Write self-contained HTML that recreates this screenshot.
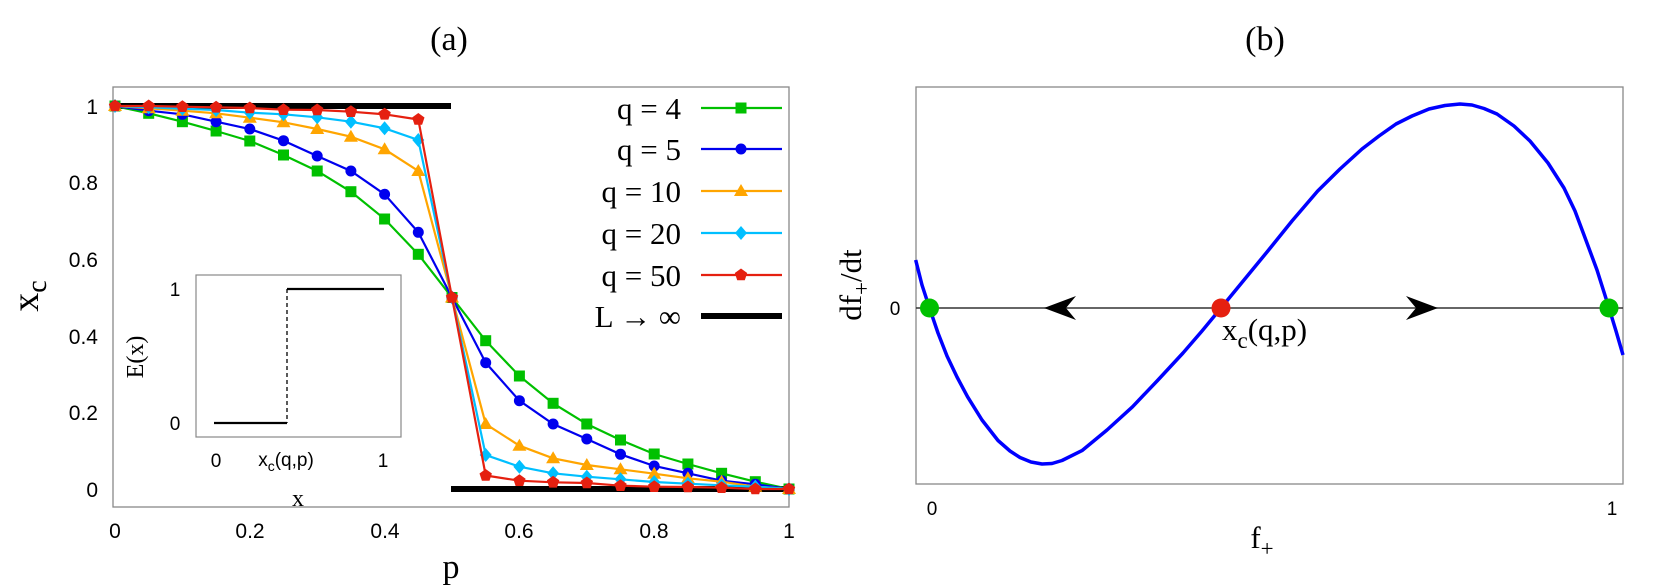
<!DOCTYPE html>
<html><head><meta charset="utf-8"><style>html,body{margin:0;padding:0;background:#fff}svg{display:block}</style></head>
<body>
<svg width="1661" height="588" viewBox="0 0 1661 588" xmlns="http://www.w3.org/2000/svg">
<defs>
<rect id="sq" x="-5.5" y="-5.5" width="11" height="11"/>
<circle id="ci" r="5.5"/>
<polygon id="tr" points="0,-7 7,5 -7,5"/>
<polygon id="di" points="0,-7 6,0 0,7 -6,0"/>
<polygon id="pe" points="0,-6.5 6.2,-2 3.8,5.3 -3.8,5.3 -6.2,-2"/>
</defs>
<g font-family="Liberation Serif, serif" fill="#000">
<text x="449" y="50" font-size="34" text-anchor="middle">(a)</text>
<text x="1265" y="50" font-size="34" text-anchor="middle">(b)</text>
</g>
<!-- Panel a -->
<rect x="113" y="87" width="676" height="420" fill="none" stroke="#888" stroke-width="1.3"/>
<g font-family="Liberation Sans, sans-serif" font-size="21" fill="#000" text-anchor="end">
<text x="98" y="114">1</text><text x="98" y="190">0.8</text><text x="98" y="267">0.6</text>
<text x="98" y="344">0.4</text><text x="98" y="420">0.2</text><text x="98" y="497">0</text>
</g>
<g font-family="Liberation Sans, sans-serif" font-size="21" fill="#000" text-anchor="middle">
<text x="115" y="538">0</text><text x="250" y="538">0.2</text><text x="385" y="538">0.4</text>
<text x="519" y="538">0.6</text><text x="654" y="538">0.8</text><text x="789" y="538">1</text>
</g>
<text x="451" y="578" font-family="Liberation Serif, serif" font-size="34" text-anchor="middle">p</text>
<text x="28" y="306" font-family="Liberation Serif, serif" font-size="38" text-anchor="middle" transform="rotate(-90 28 296)">x<tspan font-size="28" dy="8">c</tspan></text>
<line x1="115" y1="106" x2="451" y2="106" stroke="#000" stroke-width="6"/>
<line x1="451" y1="489" x2="789" y2="489" stroke="#000" stroke-width="6"/>
<!-- q=4 -->
<polyline stroke="#00c000" stroke-width="2.2" fill="none" points="115,106 148.7,113.3 182.4,121.7 216.1,131 249.8,141 283.5,155 317.2,171 350.9,191.7 384.6,219 418.3,254.3 452,297.5 485.7,340.7 519.4,376 553.1,403.3 586.8,424 620.5,440 654.2,454 687.9,464 721.6,473.3 755.3,481.7 789,489"/>
<g fill="#00c000"><use href="#sq" x="115" y="106"/><use href="#sq" x="148.7" y="113.3"/><use href="#sq" x="182.4" y="121.7"/><use href="#sq" x="216.1" y="131"/><use href="#sq" x="249.8" y="141"/><use href="#sq" x="283.5" y="155"/><use href="#sq" x="317.2" y="171"/><use href="#sq" x="350.9" y="191.7"/><use href="#sq" x="384.6" y="219"/><use href="#sq" x="418.3" y="254.3"/><use href="#sq" x="452" y="297.5"/><use href="#sq" x="485.7" y="340.7"/><use href="#sq" x="519.4" y="376"/><use href="#sq" x="553.1" y="403.3"/><use href="#sq" x="586.8" y="424"/><use href="#sq" x="620.5" y="440"/><use href="#sq" x="654.2" y="454"/><use href="#sq" x="687.9" y="464"/><use href="#sq" x="721.6" y="473.3"/><use href="#sq" x="755.3" y="481.7"/><use href="#sq" x="789" y="489"/></g>
<!-- q=5 -->
<polyline stroke="#0000ee" stroke-width="2.2" fill="none" points="115,106 148.7,110.7 182.4,114.3 216.1,121.7 249.8,129 283.5,140.7 317.2,156 350.9,171 384.6,194.3 418.3,232.3 452,297.5 485.7,362.7 519.4,400.7 553.1,424 586.8,439 620.5,454.3 654.2,466 687.9,473.3 721.6,480.7 755.3,484.3 789,489"/>
<g fill="#0000ee"><use href="#ci" x="115" y="106"/><use href="#ci" x="148.7" y="110.7"/><use href="#ci" x="182.4" y="114.3"/><use href="#ci" x="216.1" y="121.7"/><use href="#ci" x="249.8" y="129"/><use href="#ci" x="283.5" y="140.7"/><use href="#ci" x="317.2" y="156"/><use href="#ci" x="350.9" y="171"/><use href="#ci" x="384.6" y="194.3"/><use href="#ci" x="418.3" y="232.3"/><use href="#ci" x="452" y="297.5"/><use href="#ci" x="485.7" y="362.7"/><use href="#ci" x="519.4" y="400.7"/><use href="#ci" x="553.1" y="424"/><use href="#ci" x="586.8" y="439"/><use href="#ci" x="620.5" y="454.3"/><use href="#ci" x="654.2" y="466"/><use href="#ci" x="687.9" y="473.3"/><use href="#ci" x="721.6" y="480.7"/><use href="#ci" x="755.3" y="484.3"/><use href="#ci" x="789" y="489"/></g>
<!-- q=10 -->
<polyline stroke="#ffa500" stroke-width="2.2" fill="none" points="115,106 148.7,108.3 182.4,110.7 216.1,113.3 249.8,117.7 283.5,122.3 317.2,129 350.9,136.7 384.6,149.3 418.3,171 452,297.5 485.7,424 519.4,445.7 553.1,458.3 586.8,465 620.5,469.3 654.2,473.7 687.9,478.3 721.6,481.7 755.3,486.7 789,489"/>
<g fill="#ffa500"><use href="#tr" x="115" y="106"/><use href="#tr" x="148.7" y="108.3"/><use href="#tr" x="182.4" y="110.7"/><use href="#tr" x="216.1" y="113.3"/><use href="#tr" x="249.8" y="117.7"/><use href="#tr" x="283.5" y="122.3"/><use href="#tr" x="317.2" y="129"/><use href="#tr" x="350.9" y="136.7"/><use href="#tr" x="384.6" y="149.3"/><use href="#tr" x="418.3" y="171"/><use href="#tr" x="452" y="297.5"/><use href="#tr" x="485.7" y="424"/><use href="#tr" x="519.4" y="445.7"/><use href="#tr" x="553.1" y="458.3"/><use href="#tr" x="586.8" y="465"/><use href="#tr" x="620.5" y="469.3"/><use href="#tr" x="654.2" y="473.7"/><use href="#tr" x="687.9" y="478.3"/><use href="#tr" x="721.6" y="481.7"/><use href="#tr" x="755.3" y="486.7"/><use href="#tr" x="789" y="489"/></g>
<!-- q=20 -->
<polyline stroke="#00bfff" stroke-width="2.2" fill="none" points="115,106 148.7,107.3 182.4,108.7 216.1,110 249.8,112.7 283.5,114.3 317.2,117.3 350.9,121.7 384.6,128.3 418.3,140 452,297.5 485.7,455 519.4,466.7 553.1,473.3 586.8,476.7 620.5,479.3 654.2,482 687.9,483.7 721.6,485.3 755.3,486.7 789,489"/>
<g fill="#00bfff"><use href="#di" x="115" y="106"/><use href="#di" x="148.7" y="107.3"/><use href="#di" x="182.4" y="108.7"/><use href="#di" x="216.1" y="110"/><use href="#di" x="249.8" y="112.7"/><use href="#di" x="283.5" y="114.3"/><use href="#di" x="317.2" y="117.3"/><use href="#di" x="350.9" y="121.7"/><use href="#di" x="384.6" y="128.3"/><use href="#di" x="418.3" y="140"/><use href="#di" x="452" y="297.5"/><use href="#di" x="485.7" y="455"/><use href="#di" x="519.4" y="466.7"/><use href="#di" x="553.1" y="473.3"/><use href="#di" x="586.8" y="476.7"/><use href="#di" x="620.5" y="479.3"/><use href="#di" x="654.2" y="482"/><use href="#di" x="687.9" y="483.7"/><use href="#di" x="721.6" y="485.3"/><use href="#di" x="755.3" y="486.7"/><use href="#di" x="789" y="489"/></g>
<!-- q=50 -->
<polyline stroke="#e52010" stroke-width="2.2" fill="none" points="115,106 148.7,106 182.4,106.7 216.1,107.3 249.8,108 283.5,109.7 317.2,110 350.9,111.7 384.6,114.3 418.3,119.5 452,297.5 485.7,475.5 519.4,480.7 553.1,482.3 586.8,483 620.5,485.7 654.2,486.7 687.9,487 721.6,487.7 755.3,489 789,489"/>
<g fill="#e52010"><use href="#pe" x="115" y="106"/><use href="#pe" x="148.7" y="106"/><use href="#pe" x="182.4" y="106.7"/><use href="#pe" x="216.1" y="107.3"/><use href="#pe" x="249.8" y="108"/><use href="#pe" x="283.5" y="109.7"/><use href="#pe" x="317.2" y="110"/><use href="#pe" x="350.9" y="111.7"/><use href="#pe" x="384.6" y="114.3"/><use href="#pe" x="418.3" y="119.5"/><use href="#pe" x="452" y="297.5"/><use href="#pe" x="485.7" y="475.5"/><use href="#pe" x="519.4" y="480.7"/><use href="#pe" x="553.1" y="482.3"/><use href="#pe" x="586.8" y="483"/><use href="#pe" x="620.5" y="485.7"/><use href="#pe" x="654.2" y="486.7"/><use href="#pe" x="687.9" y="487"/><use href="#pe" x="721.6" y="487.7"/><use href="#pe" x="755.3" y="489"/><use href="#pe" x="789" y="489"/></g>
<!-- legend -->
<g font-family="Liberation Serif, serif" font-size="31" fill="#000" text-anchor="end">
<text x="681" y="119">q = 4</text><text x="681" y="160">q = 5</text><text x="681" y="202">q = 10</text>
<text x="681" y="244">q = 20</text><text x="681" y="286">q = 50</text><text x="681" y="327">L → ∞</text>
</g>
<line x1="701" y1="108" x2="782" y2="108" stroke="#00c000" stroke-width="2.2"/><use href="#sq" x="741" y="108" fill="#00c000"/>
<line x1="701" y1="149" x2="782" y2="149" stroke="#0000ee" stroke-width="2.2"/><use href="#ci" x="741" y="149" fill="#0000ee"/>
<line x1="701" y1="191" x2="782" y2="191" stroke="#ffa500" stroke-width="2.2"/><use href="#tr" x="741" y="191" fill="#ffa500"/>
<line x1="701" y1="233" x2="782" y2="233" stroke="#00bfff" stroke-width="2.2"/><use href="#di" x="741" y="233" fill="#00bfff"/>
<line x1="701" y1="275" x2="782" y2="275" stroke="#e52010" stroke-width="2.2"/><use href="#pe" x="741" y="275" fill="#e52010"/>
<line x1="701" y1="316" x2="782" y2="316" stroke="#000" stroke-width="6"/>
<!-- inset -->
<rect x="196" y="275" width="205" height="162" fill="#fff" stroke="#888" stroke-width="1.2"/>
<line x1="214" y1="423" x2="287" y2="423" stroke="#000" stroke-width="2.2"/>
<line x1="287" y1="289" x2="287" y2="423" stroke="#000" stroke-width="1.3" stroke-dasharray="4,3"/>
<line x1="287" y1="289" x2="384" y2="289" stroke="#000" stroke-width="2.2"/>
<g font-family="Liberation Sans, sans-serif" font-size="19" fill="#000" text-anchor="middle">
<text x="175" y="296">1</text><text x="175" y="430">0</text>
<text x="216" y="467">0</text><text x="383" y="467">1</text>
<text x="286" y="466">x<tspan font-size="14" dy="5">c</tspan><tspan dy="-5">(q,p)</tspan></text>
</g>
<text x="298" y="506" font-family="Liberation Serif, serif" font-size="24" text-anchor="middle">x</text>
<text x="135" y="365" font-family="Liberation Serif, serif" font-size="24" text-anchor="middle" transform="rotate(-90 135 357)">E(x)</text>
<!-- Panel b -->
<rect x="916" y="87" width="707" height="397" fill="none" stroke="#888" stroke-width="1.3"/>
<line x1="916" y1="308" x2="1623" y2="308" stroke="#333" stroke-width="1.5"/>
<polygon points="1044,308 1076,296 1066,308 1076,320" fill="#000"/>
<polygon points="1438,308 1406,296 1416,308 1406,320" fill="#000"/>
<polyline fill="none" stroke="#0000ff" stroke-width="3.5" stroke-linejoin="round" stroke-linecap="butt" points="915.7,260 922,285 929.5,308 938,333 947,356 957,377 967.5,396.7 982,420 998,440.5 1010,451 1020,457.5 1031,462 1042,464 1052,463.5 1062,460.5 1082,450.6 1107,430 1132.5,406.8 1158,380 1183,353 1202,331 1221,308 1244,280 1267,252 1292,221 1317.7,191 1340,169 1362,149 1379,136 1396,124 1412,116 1429,109 1445,105.5 1460,104 1472,105 1484,108.5 1497,114 1514,126 1530,141 1548,163 1564,188 1575,211 1584,235 1597,270 1609,308 1616,331 1623,355"/>
<circle cx="929.5" cy="308" r="9.5" fill="#00c000"/>
<circle cx="1609" cy="308" r="9.5" fill="#00c000"/>
<circle cx="1221" cy="308" r="9.5" fill="#e52010"/>
<text x="1222" y="340" font-family="Liberation Serif, serif" font-size="31">x<tspan font-size="23" dy="8">c</tspan><tspan dy="-8">(q,p)</tspan></text>
<g font-family="Liberation Sans, sans-serif" font-size="19" fill="#000" text-anchor="middle">
<text x="895" y="315">0</text><text x="932" y="515">0</text><text x="1612" y="515">1</text>
</g>
<text x="1262" y="548" font-family="Liberation Serif, serif" font-size="31" text-anchor="middle">f<tspan font-size="23" dy="8">+</tspan></text>
<text x="851" y="295" font-family="Liberation Serif, serif" font-size="31" text-anchor="middle" transform="rotate(-90 851 285)">df<tspan font-size="23" dy="8">+</tspan><tspan dy="-8">/dt</tspan></text>
</svg>
</body></html>
